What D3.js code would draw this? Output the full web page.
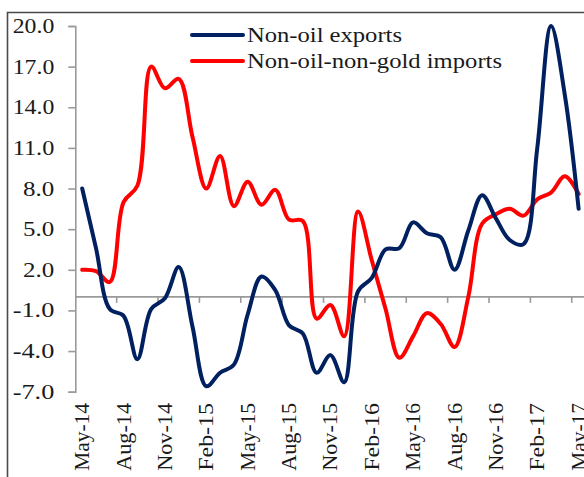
<!DOCTYPE html>
<html>
<head>
<meta charset="utf-8">
<script src="https://cdn.jsdelivr.net/npm/d3@7"></script>
<style>
html,body{margin:0;padding:0;background:#fff;}
svg{display:block;}
text{font-family:"Liberation Serif","Times New Roman",serif;fill:#1a1a1a;}
</style>
</head>
<body>
<svg id="chart" width="584" height="477"></svg>
<script>
const months = ["May-14","Jun-14","Jul-14","Aug-14","Sep-14","Oct-14","Nov-14","Dec-14",
"Jan-15","Feb-15","Mar-15","Apr-15","May-15","Jun-15","Jul-15","Aug-15","Sep-15","Oct-15","Nov-15","Dec-15",
"Jan-16","Feb-16","Mar-16","Apr-16","May-16","Jun-16","Jul-16","Aug-16","Sep-16","Oct-16","Nov-16","Dec-16",
"Jan-17","Feb-17","Mar-17","Apr-17","May-17"];
const nonOilExports = [8.0, 3.6, -0.9, -1.4, -4.6, -0.9, -0.1, 2.2, -2.2, -6.6, -5.6, -5.0,
  -1.3, 1.5, 0.5, -2.1, -2.7, -5.6, -4.3, -6.3, 0.4, 1.4, 3.5, 3.6, 5.5, 4.7, 4.4, 2.0,
  4.9, 7.5, 5.8, 4.2, 3.9, 11.0, 20.0, 14.9, 6.5];
const nonOilNonGoldImports = [2.0, 1.9, 1.1, 7.0, 8.2, 17.0, 15.4, 16.1, 11.8, 8.0, 10.4, 6.7,
  8.5, 6.8, 7.9, 5.7, 5.6, -1.6, -0.6, -2.9, 6.3, 2.7, -0.9, -4.5, -2.9, -1.2, -2.0, -3.7,
  0.0, 5.4, 6.1, 6.5, 6.0, 7.2, 7.7, 8.9, 7.6];
const yTicks = [-7, -4, -1, 2, 5, 8, 11, 14, 17, 20];
const xLabelMonths = months.filter((m, i) => i % 3 === 0);
const seriesNames = ["Non-oil exports", "Non-oil-non-gold imports"];
const seriesColors = ["#002060", "#ff0000"];

const svg = d3.select("#chart");
const step = 13.79;
const x0 = 75.3;
const x = d3.scaleBand().domain(months).range([x0, x0 + step * months.length]).padding(0);
const y = d3.scaleLinear().domain([-7, 20]).range([391.7, 26]);

// chart frame
svg.append("path").attr("d", "M7.5,480V12.5H600")
  .attr("fill", "none").attr("stroke", "#4a4a4a").attr("stroke-width", 1.6);

const axisColor = "#9a9a9a";

// y axis
const yAxis = svg.append("g").attr("transform", `translate(${x0},0)`)
  .call(d3.axisLeft(y).tickValues(yTicks).tickSize(7).tickPadding(14)
    .tickFormat(d => d.toFixed(1)));
yAxis.select(".domain").attr("stroke", axisColor).attr("stroke-width", 1.6);
yAxis.selectAll(".tick line").attr("stroke", axisColor).attr("stroke-width", 1.6);
yAxis.selectAll(".tick text").attr("font-size", 20.5)
  .attr("font-family", "Liberation Serif, serif").attr("fill", "#1a1a1a")
  .attr("textLength", function(){ return this.textContent.length * 10.4; })
  .attr("lengthAdjust", "spacingAndGlyphs");

// zero line with ticks between categories
const zeroY = y(0);
svg.append("line").attr("x1", x0).attr("x2", 600).attr("y1", zeroY).attr("y2", zeroY)
  .attr("stroke", axisColor).attr("stroke-width", 1.6);
const boundaryIdx = d3.range(3, months.length, 3);
svg.append("g").selectAll("line").data(boundaryIdx).join("line")
  .attr("x1", i => x(months[i])).attr("x2", i => x(months[i]))
  .attr("y1", zeroY).attr("y2", zeroY + 6)
  .attr("stroke", axisColor).attr("stroke-width", 1.6);

// x labels at the bottom
svg.append("g").selectAll("text").data(xLabelMonths).join("text")
  .attr("transform", d => `translate(${x(d) + x.bandwidth() / 2},403) rotate(-90)`)
  .attr("text-anchor", "end").attr("dominant-baseline", "central")
  .attr("font-size", 20.5)
  .attr("textLength", d => d.length * 11.3)
  .attr("lengthAdjust", "spacingAndGlyphs")
  .text(d => d);

// lines
const line = d3.line()
  .x((d, i) => x(months[i]) + x.bandwidth() / 2)
  .y(d => y(d))
  .curve(d3.curveCatmullRom.alpha(0.5));
[nonOilNonGoldImports, nonOilExports].forEach((vals, k) => {
  svg.append("path").datum(vals).attr("d", line)
    .attr("fill", "none").attr("stroke", seriesColors[1 - k])
    .attr("stroke-width", 4).attr("stroke-linejoin", "round").attr("stroke-linecap", "round");
});

// legend
const legend = svg.append("g");
const legY = [35, 61];
const legLen = [155, 255];
seriesNames.forEach((name, i) => {
  legend.append("line").attr("x1", 192).attr("x2", 243)
    .attr("y1", legY[i]).attr("y2", legY[i])
    .attr("stroke", seriesColors[i]).attr("stroke-width", 4).attr("stroke-linecap", "round");
  legend.append("text").attr("x", 247).attr("y", legY[i])
    .attr("dominant-baseline", "central")
    .attr("font-size", 21)
    .attr("textLength", legLen[i]).attr("lengthAdjust", "spacingAndGlyphs")
    .text(name);
});
</script>
</body>
</html>
